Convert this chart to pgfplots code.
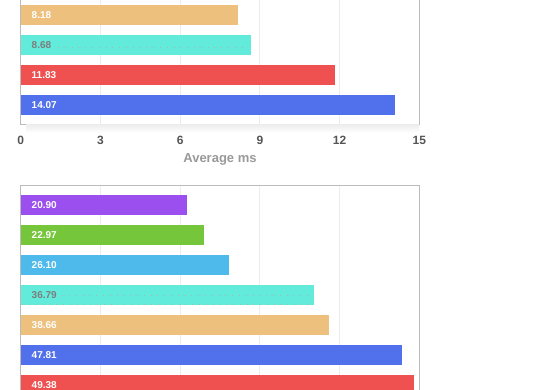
\documentclass[border=0pt]{standalone}
\usepackage{fontspec}
\setmainfont{Liberation Sans}
\usepackage{pgfplots}
\pgfplotsset{compat=1.18}
\definecolor{corange}{RGB}{238,192,125}
\definecolor{cteal}{RGB}{98,235,219}
\definecolor{cred}{RGB}{239,80,80}
\definecolor{cblue}{RGB}{80,112,236}
\definecolor{cpurple}{RGB}{156,79,239}
\definecolor{cgreen}{RGB}{117,198,58}
\definecolor{clblue}{RGB}{78,186,235}
\definecolor{frame}{RGB}{187,187,187}
\definecolor{gridc}{RGB}{236,236,236}
\definecolor{tickc}{RGB}{85,85,85}
\definecolor{labc}{RGB}{153,153,153}
\definecolor{darklab}{RGB}{125,125,125}
\pgfplotsset{
  mybar/.style={
    scale only axis, width=398.6pt,
    clip=false,
    axis line style={draw=frame, line width=0.8pt},
    xmajorgrids, grid style={draw=gridc, line width=0.8pt},
    major tick length=0pt,
    ytick=\empty,
    /pgf/number format/assume math mode=true,
    xticklabel style={anchor=base, yshift=-20.4pt, font=\bfseries\fontsize{12}{12}\selectfont, text=tickc},
    xlabel style={at={(axis description cs:0.5,0)}, anchor=base, yshift=-38.3pt, font=\bfseries\fontsize{13}{13}\selectfont, text=labc},
  },
  onebar/.style={xbar, bar width=20pt, bar shift=0pt, draw=none, fill=#1},
  labs/.style={draw=none, mark=none, nodes near coords, point meta=explicit symbolic,
    nodes near coords align=horizontal,
    every node near coord/.append style={anchor=west, xshift=10.8pt, inner sep=0pt, font=\bfseries\fontsize{10}{10}\selectfont, text=#1}},
  dots/.style={black!30, line width=0.8pt, dash pattern=on 0.8pt off 6pt},
}
\begin{document}
\begin{tikzpicture}
\path[use as bounding box] (0,0) rectangle (560pt,390pt);
\clip (0,0) rectangle (560pt,390pt);
% top chart
\begin{axis}[mybar, at={(20.7pt,265.7pt)}, anchor=south west,
  height=128.6pt, xmin=0, xmax=15, xtick={0,3,6,9,12,15},
  ymin=-0.643, ymax=3.643, xlabel={Average ms}]
\addplot[onebar=cblue] coordinates {(14.07,0)};
\addplot[onebar=cred] coordinates {(11.83,1)};
\addplot[onebar=cteal] coordinates {(8.68,2)};
\addplot[onebar=corange] coordinates {(8.18,3)};
\addplot[dots] coordinates {(1.4,1.93) (8.4,1.93)};
\addplot[labs=white] coordinates {(0,0) [14.07] (0,1) [11.83] (0,3) [8.18]};
\addplot[labs=darklab] coordinates {(0,2) [8.68]};
\end{axis}
\shade[top color=black!7, bottom color=white, draw=none] (26pt,265.3pt) rectangle (419pt,257pt);
% bottom chart
\begin{axis}[mybar, at={(20.7pt,204.7pt)}, anchor=north west,
  height=219pt, xmin=0, xmax=50, xtick={0,10,20,30,40,50}, xticklabels={},
  ymin=-0.643, ymax=6.657]
\addplot[onebar=cred] coordinates {(49.38,0)};
\addplot[onebar=cblue] coordinates {(47.81,1)};
\addplot[onebar=corange] coordinates {(38.66,2)};
\addplot[onebar=cteal] coordinates {(36.79,3)};
\addplot[onebar=clblue] coordinates {(26.10,4)};
\addplot[onebar=cgreen] coordinates {(22.97,5)};
\addplot[onebar=cpurple] coordinates {(20.90,6)};
\addplot[dots] coordinates {(5.2,2.98) (36.3,2.98)};
\addplot[dots] coordinates {(0.2,2.7) (36.3,2.7)};
\addplot[labs=white] coordinates {(0,0) [49.38] (0,1) [47.81] (0,2) [38.66] (0,4) [26.10] (0,5) [22.97] (0,6) [20.90]};
\addplot[labs=darklab] coordinates {(0,3) [36.79]};
\end{axis}
\end{tikzpicture}
\end{document}
